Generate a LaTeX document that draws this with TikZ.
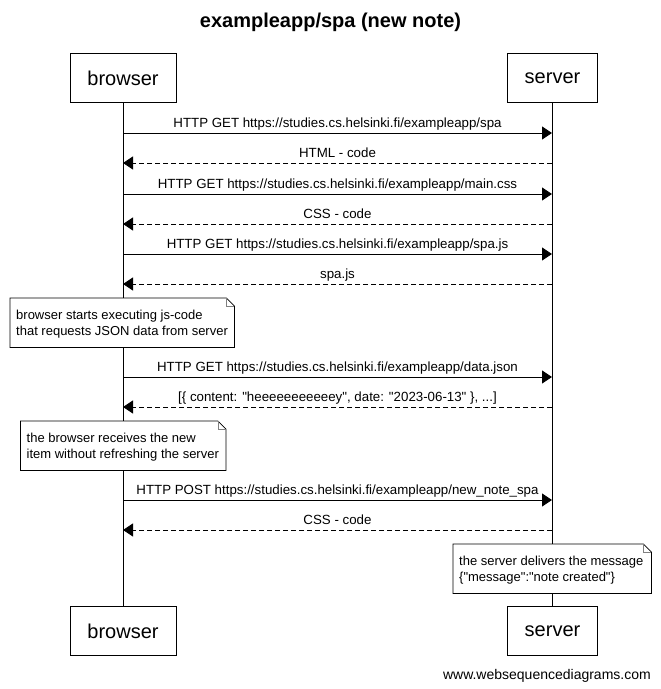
\documentclass[tikz,border=0pt]{standalone}
\usepackage{fontspec}
\setmainfont{Liberation Sans}
\usetikzlibrary{arrows.meta}
\newcommand{\qd}{\textquotedbl}
\tikzset{
  actor/.style={draw, line width=0.8pt, minimum width=#1, minimum height=49, inner sep=0pt, font=\fontsize{20}{24}\selectfont},
  life/.style={line width=0.8pt},
  msg/.style={line width=0.8pt, -{Triangle[length=10pt,width=13pt]}},
  reply/.style={msg, dash pattern=on 5pt off 3pt},
  lbl/.style={font=\fontsize{13.3}{15}\selectfont, inner sep=0pt, anchor=base},
  notebg/.style={anchor=north west, inner sep=0pt, minimum height=49, draw=none},
  notetext/.style={anchor=west, inner sep=0pt, align=left, font=\fontsize{13}{16}\selectfont},
  noteline/.style={line width=0.8pt, fill=white},
}
\newcommand{\notebox}[1]{%
  \draw[noteline] (#1.north west) -- ([xshift=-8pt]#1.north east) -- ([yshift=-8pt]#1.north east) -- (#1.south east) -- (#1.south west) -- cycle;
  \draw[line width=0.6pt, gray] ([xshift=-8pt]#1.north east) -- ([xshift=-8pt,yshift=-8pt]#1.north east) -- ([yshift=-8pt]#1.north east);
}
\begin{document}
\begin{tikzpicture}[x=1pt,y=-1pt]
\useasboundingbox (0,0) rectangle (661,689);
\node[font=\bfseries\fontsize{20}{24}\selectfont] (title) at (330.5,22) {exampleapp/spa (new note)};
\node[actor=106] (bt) at (123,78) {browser};
\node[actor=90] (st) at (552.5,78) {server};
\node[actor=106] (bb) at (123,631) {browser};
\node[actor=90] (sb) at (552.5,631) {server};
\draw[life] (bt.south) -- (bb.north);
\draw[life] (st.south) -- (sb.north);

% lifeline points
\foreach \n/\y in {1/133,2/163,3/194,4/224,5/254,6/284,7/377,8/407,9/500,10/530}{
  \coordinate (b\n) at (123,\y);
  \coordinate (s\n) at (552,\y);
}
\draw[msg] (b1) -- (s1);
\node[lbl] (l1) at (337.5,127.5) {HTTP GET https://studies.cs.helsinki.fi/exampleapp/spa};
\draw[reply] (s2) -- (b2);
\node[lbl] (l2) at (337.5,157.5) {HTML - code};
\draw[msg] (b3) -- (s3);
\node[lbl] (l3) at (337.5,188.5) {HTTP GET https://studies.cs.helsinki.fi/exampleapp/main.css};
\draw[reply] (s4) -- (b4);
\node[lbl] (l4) at (337.5,218.5) {CSS - code};
\draw[msg] (b5) -- (s5);
\node[lbl] (l5) at (337.5,248.5) {HTTP GET https://studies.cs.helsinki.fi/exampleapp/spa.js};
\draw[reply] (s6) -- (b6);
\node[lbl] (l6) at (337.5,278.5) {spa.js};

\node[notebg, minimum width=224] (n1) at (10,298) {};
\notebox{n1}
\node[notetext] (n1t) at ([xshift=6pt,yshift=-1pt]n1.west) {browser starts executing js-code\\that requests JSON data from server};

\draw[msg] (b7) -- (s7);
\node[lbl] (l7) at (337.5,371.5) {HTTP GET https://studies.cs.helsinki.fi/exampleapp/data.json};
\draw[reply] (s8) -- (b8);
\node[lbl] (l8) at (337.5,401.5) {[\{ content: \qd heeeeeeeeeeey\qd, date: \qd 2023-06-13\qd\ \}, ...]};

\node[notebg, minimum width=205] (n2) at (20.5,421) {};
\notebox{n2}
\node[notetext] (n2t) at ([xshift=6pt,yshift=-1pt]n2.west) {the browser receives the new\\item without refreshing the server};

\draw[msg] (b9) -- (s9);
\node[lbl] (l9) at (337.5,494.5) {HTTP POST https://studies.cs.helsinki.fi/exampleapp/new\_note\_spa};
\draw[reply] (s10) -- (b10);
\node[lbl] (l10) at (337.5,524.5) {CSS - code};

\node[notebg, minimum width=198] (n3) at (453,544) {};
\notebox{n3}
\node[notetext] (n3t) at ([xshift=6pt,yshift=-1pt]n3.west) {the server delivers the message\\\{\qd message\qd:\qd note created\qd\}};

\node[font=\fontsize{14}{17}\selectfont, anchor=base east, inner sep=0pt] (foot) at (651,679) {www.websequencediagrams.com};
\end{tikzpicture}
\end{document}
